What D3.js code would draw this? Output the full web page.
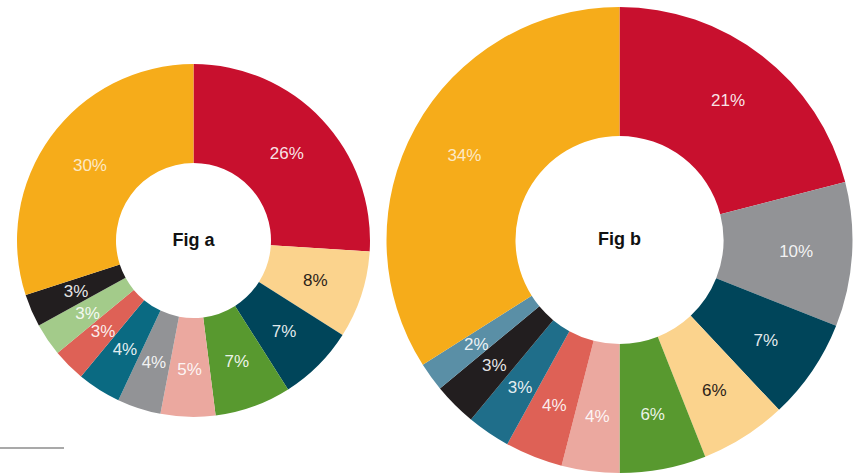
<!DOCTYPE html>
<html>
<head>
<meta charset="utf-8">
<script src="https://cdn.jsdelivr.net/npm/d3@7"></script>
<style>
  html, body { margin: 0; padding: 0; background: #ffffff; }
  svg { display: block; }
</style>
</head>
<body>
<svg id="chart" width="855" height="475"></svg>
<script>
// ---- Data ----
const figATitle = "Fig a";
const figACategories = ["c1", "c2", "c3", "c4", "c5", "c6", "c7", "c8", "c9", "c10", "c11"];
const figAValues = [26, 8, 7, 7, 5, 4, 4, 3, 3, 3, 30];
const figAColors = ["#C8102E", "#FBD38D", "#00455A", "#58992F", "#EBA89F", "#929396", "#0A6A82", "#DE6156", "#A3CB8A", "#221E1F", "#F6AC1A"];

const figBTitle = "Fig b";
const figBCategories = ["c1", "c2", "c3", "c4", "c5", "c6", "c7", "c8", "c9", "c10", "c11"];
const figBValues = [21, 10, 7, 6, 6, 4, 4, 3, 3, 2, 34];
const figBColors = ["#C8102E", "#929396", "#00455A", "#FBD38D", "#58992F", "#EBA89F", "#DE6156", "#1F6E8A", "#221E1F", "#5A8FA6", "#F6AC1A"];

const svg = d3.select("#chart");

function drawDonut(cfg) {
  const { cx, cy, inner, outer, labelR, values, colors, title, darkOn } = cfg;
  const g = svg.append("g").attr("transform", `translate(${cx},${cy})`);
  const pie = d3.pie().sort(null).value(d => d)(values);
  const arc = d3.arc().innerRadius(inner).outerRadius(outer);
  const labelArc = d3.arc().innerRadius(labelR).outerRadius(labelR);

  g.selectAll("path.slice")
    .data(pie)
    .join("path")
    .attr("class", "slice")
    .attr("d", arc)
    .attr("fill", (d, i) => colors[i]);

  g.selectAll("text.lbl")
    .data(pie)
    .join("text")
    .attr("class", "lbl")
    .attr("transform", d => `translate(${labelArc.centroid(d)})`)
    .attr("text-anchor", "middle")
    .attr("dy", "0.36em")
    .style("font-family", "'Liberation Sans', Arial, sans-serif")
    .style("font-size", "17px")
    .attr("fill", (d, i) => darkOn.includes(colors[i]) ? "#2b2218" : "#ffffff")
    .attr("fill-opacity", (d, i) => darkOn.includes(colors[i]) ? 1 : (colors[i] === "#F6AC1A" ? 0.75 : 0.9))
    .text(d => d.data + "%");

  g.append("text")
    .attr("text-anchor", "middle")
    .attr("dy", "0.36em")
    .attr("y", -1)
    .style("font-family", "'Liberation Sans', Arial, sans-serif")
    .style("font-size", "18px")
    .style("font-weight", "bold")
    .attr("fill", "#111111")
    .text(title);
}

drawDonut({ cx: 193.5, cy: 240.5, inner: 77.5, outer: 176.5, labelR: 128,
  values: figAValues, colors: figAColors, title: figATitle, darkOn: ["#FBD38D"] });

drawDonut({ cx: 619.5, cy: 240, inner: 104, outer: 233, labelR: 177,
  values: figBValues, colors: figBColors, title: figBTitle, darkOn: ["#FBD38D"] });

// small rule at bottom-left
svg.append("line")
  .attr("x1", 0).attr("x2", 64)
  .attr("y1", 448).attr("y2", 448)
  .attr("stroke", "#555555")
  .attr("stroke-width", 1.2);
</script>
</body>
</html>
